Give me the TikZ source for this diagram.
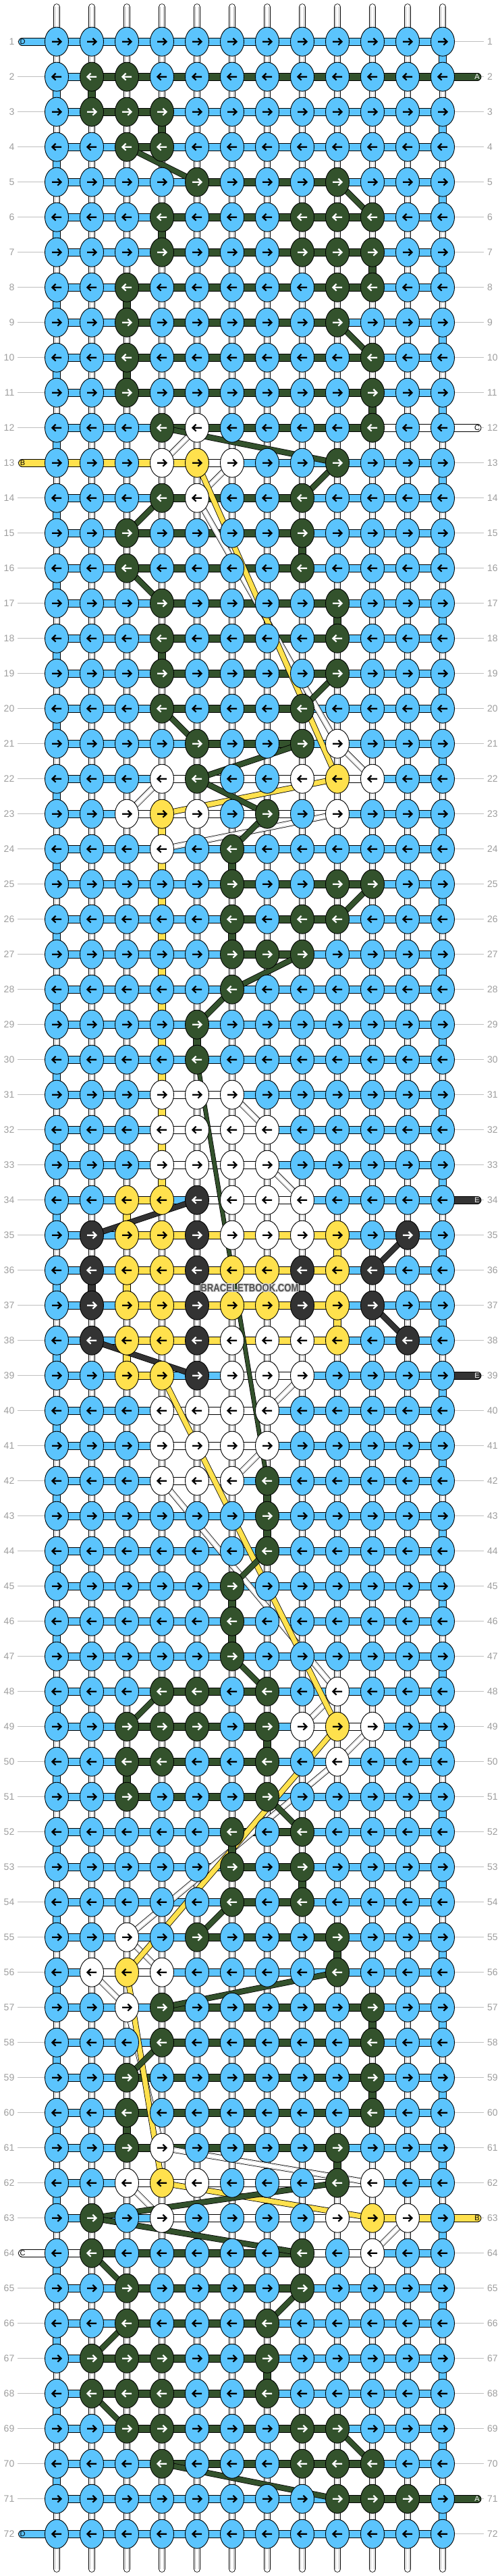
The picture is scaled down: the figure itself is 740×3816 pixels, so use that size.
\documentclass[tikz,border=0pt]{standalone}
\usepackage{fontspec}
\setmainfont{Liberation Sans}
\usetikzlibrary{shapes.geometric}
\definecolor{cB}{RGB}{91,196,253}
\definecolor{cG}{RGB}{51,82,44}
\definecolor{cY}{RGB}{255,225,77}
\definecolor{cW}{RGB}{255,255,255}
\definecolor{cK}{RGB}{51,51,51}
\colorlet{aB}{black}\colorlet{aG}{white}\colorlet{aY}{black}\colorlet{aW}{black}\colorlet{aK}{white}
\definecolor{labgray}{RGB}{158,158,158}
\definecolor{wmdark}{RGB}{80,80,80}
\definecolor{wmhalo}{RGB}{215,215,215}
\pgfdeclarelayer{vc}\pgfdeclarelayer{hc}\pgfdeclarelayer{st}
\pgfsetlayers{vc,hc,st,main}
\tikzset{
 knot/.style={ellipse,minimum width=35pt,minimum height=43pt,inner sep=0pt,draw=black,line width=0.9pt},
 arrw/.style={line width=2.2pt,line cap=butt,line join=miter},
 hcon/.style={draw=black,line width=0.8pt,double=#1,double distance=10.2pt},
 vcon/.style={draw=black,line width=0.8pt,double=white,double distance=8.8pt},
 vcin/.style={draw=black!28,line width=0.5pt,double=white,double distance=4.4pt},
 strline/.style={draw=black,line width=0.8pt,double=#1},
 stubline/.style={draw=black,line width=0.8pt,double=#1,double distance=10.2pt,line cap=round},
 tubel/.style={draw=black,line width=0.8pt,double=white,double distance=8.8pt,line cap=round},
 lab/.style={font=\fontsize{14}{14}\selectfont,text=labgray,inner sep=0pt},
 labline/.style={draw=black!25,line width=0.9pt},
 stublab/.style={font=\fontsize{11}{11}\selectfont,inner sep=0pt},
 wmark/.style={font=\bfseries\fontsize{16}{16}\selectfont,inner sep=0pt},
}
\newcommand\wmtext{\scalebox{0.82}[1]{BRACELETBOOK.COM}}
\newcount\colc
\def\currow{1}
\def\knots#1#2{\def\currow{#1}\colc=0 \knotloop#2\relax}
\def\knotloop#1{\ifx#1\relax\let\kNext\relax\else\def\kNext{\advance\colc by 1 \mkknot{#1}\knotloop}\fi\kNext}
\def\mkknot#1{%
 \pgfmathsetmacro\kx{84+52*(\the\colc-1)}%
 \pgfmathsetmacro\ky{61.7+52*(\currow-1)}%
 \node[knot,fill=c#1] (k-\currow-\the\colc) at (\kx,\ky) {};%
 \ifodd\currow\relax
  \draw[arrw,draw=a#1] (\kx-7,\ky) -- (\kx+6,\ky) (\kx+1.4,\ky-5) -- (\kx+6.6,\ky) -- (\kx+1.4,\ky+5);%
 \else
  \draw[arrw,draw=a#1] (\kx+7,\ky) -- (\kx-6,\ky) (\kx-1.4,\ky-5) -- (\kx-6.6,\ky) -- (\kx-1.4,\ky+5);%
 \fi}
\def\conns#1#2{\def\currow{#1}\colc=0 \connloop#2\relax}
\def\connloop#1{\ifx#1\relax\let\kNext\relax\else\def\kNext{\advance\colc by 1 \mkconn{#1}\connloop}\fi\kNext}
\def\mkconn#1{\pgfmathtruncatemacro\cn{\the\colc+1}%
 \draw[hcon=c#1] (k-\currow-\the\colc.center) -- (k-\currow-\cn.center);}
\def\sl#1#2#3#4#5{\ifnum#3=#5\relax\def\sdd{9.6pt}\else\def\sdd{7.2pt}\fi
 \draw[strline=c#1,double distance=\sdd] (k-#2-#3.center) -- (k-#4-#5.center);}
\def\slW#1#2#3#4{\ifnum#2=#4\relax\def\sdd{8.8pt}\else\def\sdd{7.2pt}\fi
 \draw[strline=white,double distance=\sdd] (k-#1-#2.center) -- (k-#3-#4.center);
 \draw[vcin] (k-#1-#2.center) -- (k-#3-#4.center);}
\def\stubL#1#2#3#4{\pgfmathsetmacro\ky{61.7+52*(#1-1)}%
 \coordinate (sl-#1) at (33,\ky);
 \draw[stubline=c#2] (sl-#1) -- (k-#1-1.center);
 \node[stublab,text=#4] (slab-#1) at (33.5,\ky) {#3};}
\def\stubR#1#2#3#4{\pgfmathsetmacro\ky{61.7+52*(#1-1)}%
 \coordinate (sr-#1) at (707.5,\ky);
 \draw[stubline=c#2] (k-#1-12.center) -- (sr-#1);
 \node[stublab,text=#4] (srlab-#1) at (707,\ky) {#3};}
\begin{document}
\begin{tikzpicture}[x=1pt,y=-1pt]
\useasboundingbox (0,0) rectangle (740,3816);
% knots
\knots{1}{BBBBBBBBBBBB}
\knots{2}{BGGBBBBBBBBB}
\knots{3}{BGGGBBBBBBBB}
\knots{4}{BBGGBBBBBBBB}
\knots{5}{BBBBGBBBGBBB}
\knots{6}{BBBGBBBGGGBB}
\knots{7}{BBBGBBBGGGBB}
\knots{8}{BBGBBBBBGGBB}
\knots{9}{BBGBBBBBGBBB}
\knots{10}{BBGBBBBBBGBB}
\knots{11}{BBGBBBBBBGBB}
\knots{12}{BBBGWBBBBGBB}
\knots{13}{BBBWYWBBGBBB}
\knots{14}{BBBGWBBGBBBB}
\knots{15}{BBGBBBBGBBBB}
\knots{16}{BBGBBBBGBBBB}
\knots{17}{BBBGBBBBGBBB}
\knots{18}{BBBGBBBBGBBB}
\knots{19}{BBBGBBBBGBBB}
\knots{20}{BBBGBBBGBBBB}
\knots{21}{BBBBGBBGWBBB}
\knots{22}{BBBWGBBWYWBB}
\knots{23}{BBWYWBGBWBBB}
\knots{24}{BBBWBGBBBBBB}
\knots{25}{BBBBBGBBGGBB}
\knots{26}{BBBBBGBGGBBB}
\knots{27}{BBBBBGGGBBBB}
\knots{28}{BBBBBGBBBBBB}
\knots{29}{BBBBGBBBBBBB}
\knots{30}{BBBBGBBBBBBB}
\knots{31}{BBBWWWBBBBBB}
\knots{32}{BBBWWWWBBBBB}
\knots{33}{BBBWWWWBBBBB}
\knots{34}{BBYYKWWWBBBB}
\knots{35}{BKYYKWWWYBKB}
\knots{36}{BKYYKYYKYKBB}
\knots{37}{BKYYKYYKYKBB}
\knots{38}{BKYYKWWWYBKB}
\knots{39}{BBYYKWWWBBBB}
\knots{40}{BBBWWWWBBBBB}
\knots{41}{BBBWWWWBBBBB}
\knots{42}{BBBWWWGBBBBB}
\knots{43}{BBBBBBGBBBBB}
\knots{44}{BBBBBBGBBBBB}
\knots{45}{BBBBBGBBBBBB}
\knots{46}{BBBBBGBBBBBB}
\knots{47}{BBBBBGBBBBBB}
\knots{48}{BBBGGBGBWBBB}
\knots{49}{BBGGGBGWYWBB}
\knots{50}{BBGGBBGBWBBB}
\knots{51}{BBGBBBGBBBBB}
\knots{52}{BBBBBGBGBBBB}
\knots{53}{BBBBBGBGBBBB}
\knots{54}{BBBBBGBGBBBB}
\knots{55}{BBWBGBBBGBBB}
\knots{56}{BWYWBBBBGBBB}
\knots{57}{BBWGBBBBBGBB}
\knots{58}{BBBGBBBBBGBB}
\knots{59}{BBGBBBBBBGBB}
\knots{60}{BBGBBBBBBGBB}
\knots{61}{BBGWBBBBGBBB}
\knots{62}{BBWYWBBBGWBB}
\knots{63}{BGBWBBBBWYWB}
\knots{64}{BGBBBBBGBWBB}
\knots{65}{BBGBBBBGBBBB}
\knots{66}{BBGBBBGBBBBB}
\knots{67}{BGGGBBGBBBBB}
\knots{68}{BGGGBBGBBBBB}
\knots{69}{BBGGBBBGGBBB}
\knots{70}{BBBGBBBGGGBB}
\knots{71}{BBBBBBBBGGGB}
\knots{72}{BBBBBBBBBBBB}
% row labels
\foreach \r in {1,...,72}{\pgfmathsetmacro\ky{61.7+52*(\r-1)}
 \node[lab,anchor=east] (ll-\r) at (21.5,\ky) {\r};
 \node[lab,anchor=west] (rl-\r) at (722,\ky) {\r};}
% watermark with light halo
\foreach \dx/\dy [count=\i] in {1.3/0,-1.3/0,0/1.3,0/-1.3,0.9/0.9,-0.9/0.9,0.9/-0.9,-0.9/-0.9}{
 \node[wmark,text=wmhalo] (wmh\i) at (370+\dx,1908+\dy) {\wmtext};}
\node[wmark,text=wmdark] (wm) at (370,1908) {\wmtext};
% vertical base strings and label lines
\begin{pgfonlayer}{vc}
\fill[white] (0,0) rectangle (740,3816);
\foreach \r in {1,...,72}{
 \draw[labline] ([xshift=4.5pt]ll-\r.east) -- (k-\r-1.west);
 \draw[labline] (k-\r-12.east) -- ([xshift=-5pt]rl-\r.west);}
\foreach \r in {1,...,71}{\pgfmathtruncatemacro\rn{\r+1}
 \foreach \c in {1,...,12}{\draw[vcon] (k-\r-\c.center) -- (k-\rn-\c.center);
  \draw[vcin] (k-\r-\c.center) -- (k-\rn-\c.center);}}
\foreach \c in {1,...,12}{\pgfmathsetmacro\kx{84+52*(\c-1)}
 \coordinate (tt-\c) at (\kx,10.5);
 \coordinate (tb-\c) at (\kx,3805.5);
 \draw[tubel] (tt-\c) -- (k-1-\c.center);
 \draw[vcin] (tt-\c) -- (k-1-\c.center);
 \draw[tubel] (tb-\c) -- (k-72-\c.center);
 \draw[vcin] (tb-\c) -- (k-72-\c.center);}
\end{pgfonlayer}
% horizontal connectors and side strings
\begin{pgfonlayer}{hc}
\conns{1}{BBBBBBBBBBB}
\conns{2}{BGGGGGGGGGG}
\conns{3}{BGGBBBBBBBB}
\conns{4}{BBGBBBBBBBB}
\conns{5}{BBBBGGGGBBB}
\conns{6}{BBBGGGGGGBB}
\conns{7}{BBBGGGGGGBB}
\conns{8}{BBGGGGGGGBB}
\conns{9}{BBGGGGGGBBB}
\conns{10}{BBGGGGGGGBB}
\conns{11}{BBGGGGGGGBB}
\conns{12}{BBBGGGGGGWW}
\conns{13}{YYYYWBBBBBB}
\conns{14}{BBBGGGGBBBB}
\conns{15}{BBGGGGGBBBB}
\conns{16}{BBGGGGGBBBB}
\conns{17}{BBBGGGGGBBB}
\conns{18}{BBBGGGGGBBB}
\conns{19}{BBBGGGGGBBB}
\conns{20}{BBBGGGGBBBB}
\conns{21}{BBBBGGGBBBB}
\conns{22}{BBBWWWWWWBB}
\conns{23}{BBWWWWWWBBB}
\conns{24}{BBBBBBBBBBB}
\conns{25}{BBBBBGGGGBB}
\conns{26}{BBBBBGGGBBB}
\conns{27}{BBBBBGGBBBB}
\conns{28}{BBBBBBBBBBB}
\conns{29}{BBBBBBBBBBB}
\conns{30}{BBBBBBBBBBB}
\conns{31}{BBBWWBBBBBB}
\conns{32}{BBBWWWBBBBB}
\conns{33}{BBBWWWBBBBB}
\conns{34}{BBYBWWWBBBB}
\conns{35}{BBYYYYYYBBB}
\conns{36}{BBYYYYYYBBB}
\conns{37}{BBYYYYYYBBB}
\conns{38}{BBYYYYYYBBB}
\conns{39}{BBYBBWWBBBB}
\conns{40}{BBBWWWBBBBB}
\conns{41}{BBBWWWBBBBB}
\conns{42}{BBBWWBBBBBB}
\conns{43}{BBBBBBBBBBB}
\conns{44}{BBBBBBBBBBB}
\conns{45}{BBBBBBBBBBB}
\conns{46}{BBBBBBBBBBB}
\conns{47}{BBBBBBBBBBB}
\conns{48}{BBBGGGBBBBB}
\conns{49}{BBGGGGBWWBB}
\conns{50}{BBGGGGBBBBB}
\conns{51}{BBGGGGBBBBB}
\conns{52}{BBBBBGGBBBB}
\conns{53}{BBBBBGGBBBB}
\conns{54}{BBBBBGGBBBB}
\conns{55}{BBBBGGGGBBB}
\conns{56}{BWWBBBBBBBB}
\conns{57}{BBBGGGGGGBB}
\conns{58}{BBBGGGGGGBB}
\conns{59}{BBGGGGGGGBB}
\conns{60}{BBGGGGGGGBB}
\conns{61}{BBGGGGGGBBB}
\conns{62}{BBWWWWWWWBB}
\conns{63}{BBBWWWWWWYY}
\conns{64}{WGGGGGGWWBB}
\conns{65}{BBGGGGGBBBB}
\conns{66}{BBGGGGBBBBB}
\conns{67}{BGGGGGBBBBB}
\conns{68}{BGGGGGBBBBB}
\conns{69}{BBGGGGGGBBB}
\conns{70}{BBBGGGGGGBB}
\conns{71}{BBBBBBBBGGG}
\conns{72}{BBBBBBBBBBB}
\stubL{1}{B}{D}{black}
\stubL{13}{Y}{B}{black}
\stubL{64}{W}{C}{black}
\stubL{72}{B}{D}{black}
\stubR{2}{G}{A}{white}
\stubR{12}{W}{C}{black}
\stubR{34}{K}{E}{white}
\stubR{39}{K}{E}{white}
\stubR{63}{Y}{B}{black}
\stubR{71}{G}{A}{white}
\end{pgfonlayer}
% carried strings
\begin{pgfonlayer}{st}
\slW{12}{5}{13}{4}\slW{13}{6}{14}{5}\slW{14}{5}{21}{9}\slW{21}{9}{22}{10}
\slW{22}{4}{23}{3}\slW{23}{9}{24}{4}\slW{24}{4}{31}{4}\slW{31}{6}{32}{7}
\slW{32}{4}{33}{4}\slW{33}{7}{34}{8}\slW{34}{6}{35}{6}\slW{35}{8}{38}{8}
\slW{38}{6}{39}{6}\slW{39}{8}{40}{7}\slW{40}{4}{41}{4}\slW{41}{7}{42}{6}
\slW{42}{4}{48}{9}\slW{48}{9}{49}{8}\slW{49}{10}{50}{9}\slW{50}{9}{55}{3}
\slW{55}{3}{56}{4}\slW{56}{2}{57}{3}\slW{57}{3}{61}{4}\slW{61}{4}{62}{10}
\slW{62}{3}{63}{4}\slW{63}{11}{64}{10}
\foreach \r in {1,...,71}{\pgfmathtruncatemacro\rn{\r+1}
 \ifodd\r\relax\def\bc{12}\else\def\bc{1}\fi
 \draw[strline=cB,double distance=9.6pt] (k-\r-\bc.center) -- (k-\rn-\bc.center);}
\sl{Y}{13}{5}{22}{9}\sl{Y}{22}{9}{23}{4}\sl{Y}{23}{4}{34}{4}\sl{Y}{34}{3}{35}{3}
\sl{Y}{35}{9}{36}{9}\sl{Y}{36}{3}{37}{3}\sl{Y}{37}{9}{38}{9}\sl{Y}{38}{3}{39}{3}
\sl{Y}{39}{4}{49}{9}\sl{Y}{49}{9}{56}{3}\sl{Y}{56}{3}{62}{4}\sl{Y}{62}{4}{63}{10}
\sl{K}{34}{5}{35}{2}\sl{K}{35}{11}{36}{10}\sl{K}{36}{2}{37}{2}\sl{K}{37}{10}{38}{11}\sl{K}{38}{2}{39}{5}
\sl{G}{2}{2}{3}{2}\sl{G}{3}{4}{4}{4}\sl{G}{4}{3}{5}{5}\sl{G}{5}{9}{6}{10}
\sl{G}{6}{4}{7}{4}\sl{G}{7}{10}{8}{10}\sl{G}{8}{3}{9}{3}\sl{G}{9}{9}{10}{10}
\sl{G}{10}{3}{11}{3}\sl{G}{11}{10}{12}{10}\sl{G}{12}{4}{13}{9}\sl{G}{13}{9}{14}{8}
\sl{G}{14}{4}{15}{3}\sl{G}{15}{8}{16}{8}\sl{G}{16}{3}{17}{4}\sl{G}{17}{9}{18}{9}
\sl{G}{18}{4}{19}{4}\sl{G}{19}{9}{20}{8}\sl{G}{20}{4}{21}{5}\sl{G}{21}{8}{22}{5}
\sl{G}{22}{5}{23}{7}\sl{G}{23}{7}{24}{6}\sl{G}{24}{6}{25}{6}\sl{G}{25}{10}{26}{9}
\sl{G}{26}{6}{27}{6}\sl{G}{27}{8}{28}{6}\sl{G}{28}{6}{29}{5}\sl{G}{29}{5}{30}{5}
\draw[strline=cG,double distance=5.2pt] (k-30-5.center) -- (k-42-7.center);
\sl{G}{42}{7}{43}{7}\sl{G}{43}{7}{44}{7}\sl{G}{44}{7}{45}{6}\sl{G}{45}{6}{46}{6}
\sl{G}{46}{6}{47}{6}\sl{G}{47}{6}{48}{7}\sl{G}{48}{4}{49}{3}\sl{G}{49}{7}{50}{7}
\sl{G}{50}{3}{51}{3}\sl{G}{51}{7}{52}{8}\sl{G}{52}{6}{53}{6}\sl{G}{53}{8}{54}{8}
\sl{G}{54}{6}{55}{5}\sl{G}{55}{9}{56}{9}\sl{G}{56}{9}{57}{4}\sl{G}{57}{10}{58}{10}
\sl{G}{58}{4}{59}{3}\sl{G}{59}{10}{60}{10}\sl{G}{60}{3}{61}{3}\sl{G}{61}{9}{62}{9}
\sl{G}{62}{9}{63}{2}\sl{G}{63}{2}{64}{8}\sl{G}{64}{2}{65}{3}\sl{G}{65}{8}{66}{7}
\sl{G}{66}{3}{67}{2}\sl{G}{67}{7}{68}{7}\sl{G}{68}{2}{69}{3}\sl{G}{69}{9}{70}{10}
\sl{G}{70}{4}{71}{9}
\end{pgfonlayer}
\end{tikzpicture}
\end{document}
